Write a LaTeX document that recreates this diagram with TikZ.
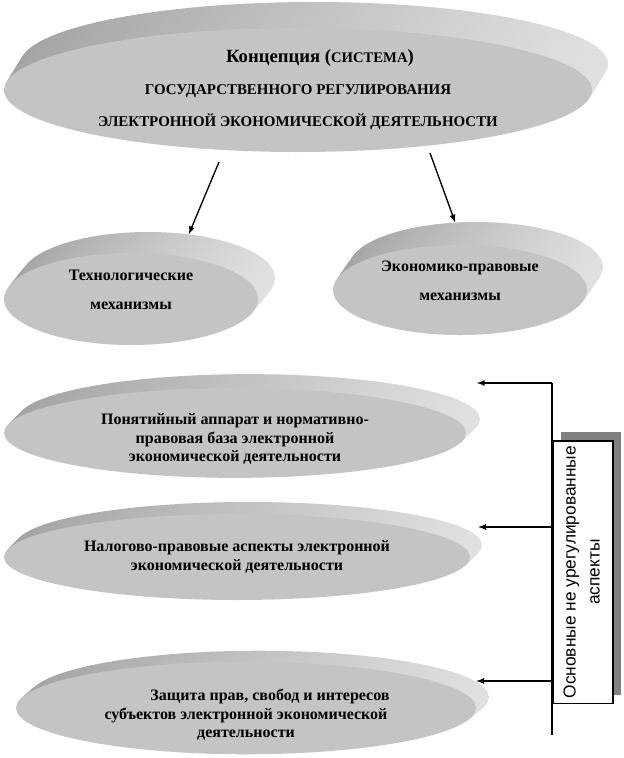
\documentclass[tikz,border=0pt]{standalone}
\usepackage{fontspec}
\setmainfont{Liberation Serif}
\newfontfamily\arialfont{Liberation Sans}
\usepackage{tikz}
\usetikzlibrary{arrows,shapes,positioning,shadows}

\tikzset{
  rim/.style={left color=black!36, right color=black!12},
  disc/.style 2 args={ellipse, inner sep=0pt, fill=black!23, align=center,
    font=\fontsize{12}{14}\selectfont\bfseries,
    preaction={rim, transform canvas={shift={(#1,#2)}}},
    preaction={rim, transform canvas={shift={(0.875*#1,0.875*#2)}}},
    preaction={rim, transform canvas={shift={(0.75*#1,0.75*#2)}}},
    preaction={rim, transform canvas={shift={(0.625*#1,0.625*#2)}}},
    preaction={rim, transform canvas={shift={(0.5*#1,0.5*#2)}}},
    preaction={rim, transform canvas={shift={(0.375*#1,0.375*#2)}}},
    preaction={rim, transform canvas={shift={(0.25*#1,0.25*#2)}}},
    preaction={rim, transform canvas={shift={(0.125*#1,0.125*#2)}}}},
  link/.style={->, >=latex, line width=1pt}
}

\begin{document}
\begin{tikzpicture}[x=0.75pt, y=0.75pt]
\useasboundingbox (0,0) rectangle (624,-758);

\node[disc={16}{26}, minimum width=441pt, minimum height=93pt] (concept) at (298,-90)
  {\hspace*{33pt}{\fontsize{14}{14}\selectfont Концепция (}{\fontsize{11}{14}\selectfont СИСТЕМА}{\fontsize{14}{14}\selectfont )}\\[10pt]
   {\fontsize{11.2}{14}\selectfont ГОСУДАРСТВЕННОГО РЕГУЛИРОВАНИЯ}\\[10pt]
   {\fontsize{11.2}{14}\selectfont ЭЛЕКТРОННОЙ ЭКОНОМИЧЕСКОЙ ДЕЯТЕЛЬНОСТИ}};
\node[disc={17}{21}, minimum width=190.5pt, minimum height=69pt] (tech) at (131,-299)
  {Технологические\\[8pt] механизмы\\ \mbox{}};
\node[disc={16}{23}, minimum width=190.5pt, minimum height=67.5pt] (econ) at (460,-290)
  {Экономико-правовые\\[8pt] механизмы\\ \mbox{}};

\node[disc={14}{14}, minimum width=346.5pt, minimum height=66pt] (basis) at (235,-433)
  {\mbox{}\\[3.5pt] Понятийный аппарат и нормативно-\\ правовая база электронной\\ экономической деятельности};
\node[disc={12}{12}, minimum width=349.5pt, minimum height=64.5pt] (tax) at (237,-557)
  {Налогово-правовые аспекты электронной\\ экономической деятельности};
\node[disc={13}{11}, minimum width=345pt, minimum height=67.5pt] (rights) at (246,-708)
  {\mbox{}\\[5pt] \hspace*{36pt}Защита прав, свобод и интересов\\ субъектов электронной экономической\\ деятельности};

\node[draw, line width=1.3pt, fill=white, inner sep=0pt, minimum width=45pt, minimum height=197pt,
  anchor=north west, general shadow={shadow xshift=6pt, shadow yshift=6.75pt, fill=black!50}] (aspects) at (552,-440)
  {\rotatebox{90}{\arialfont\fontsize{13}{18}\selectfont
   \begin{tabular}{@{}c@{}}Основные не урегулированные\\ аспекты\end{tabular}}};

\coordinate (t1) at (219,-162);
\coordinate (t2) at (430,-153);
\draw[link] (t1) -- ([shift={(17,21)}]tech.47);
\draw[link] (t2) -- ([shift={(16,23)}]econ.115);

\coordinate (ltop) at (552,-383);
\coordinate (lbot) at (552,-735);
\coordinate (l2) at (552,-527);
\coordinate (l3) at (552,-681);
\draw[line width=1pt] (ltop) -- (lbot);
\draw[link, shorten >=8pt] (ltop) -- (ltop -| basis.east);
\draw[link, shorten >=6pt] (l2) -- (l2 -| tax.east);
\draw[link] (l3) -- (l3 -| rights.east);
\end{tikzpicture}
\end{document}
